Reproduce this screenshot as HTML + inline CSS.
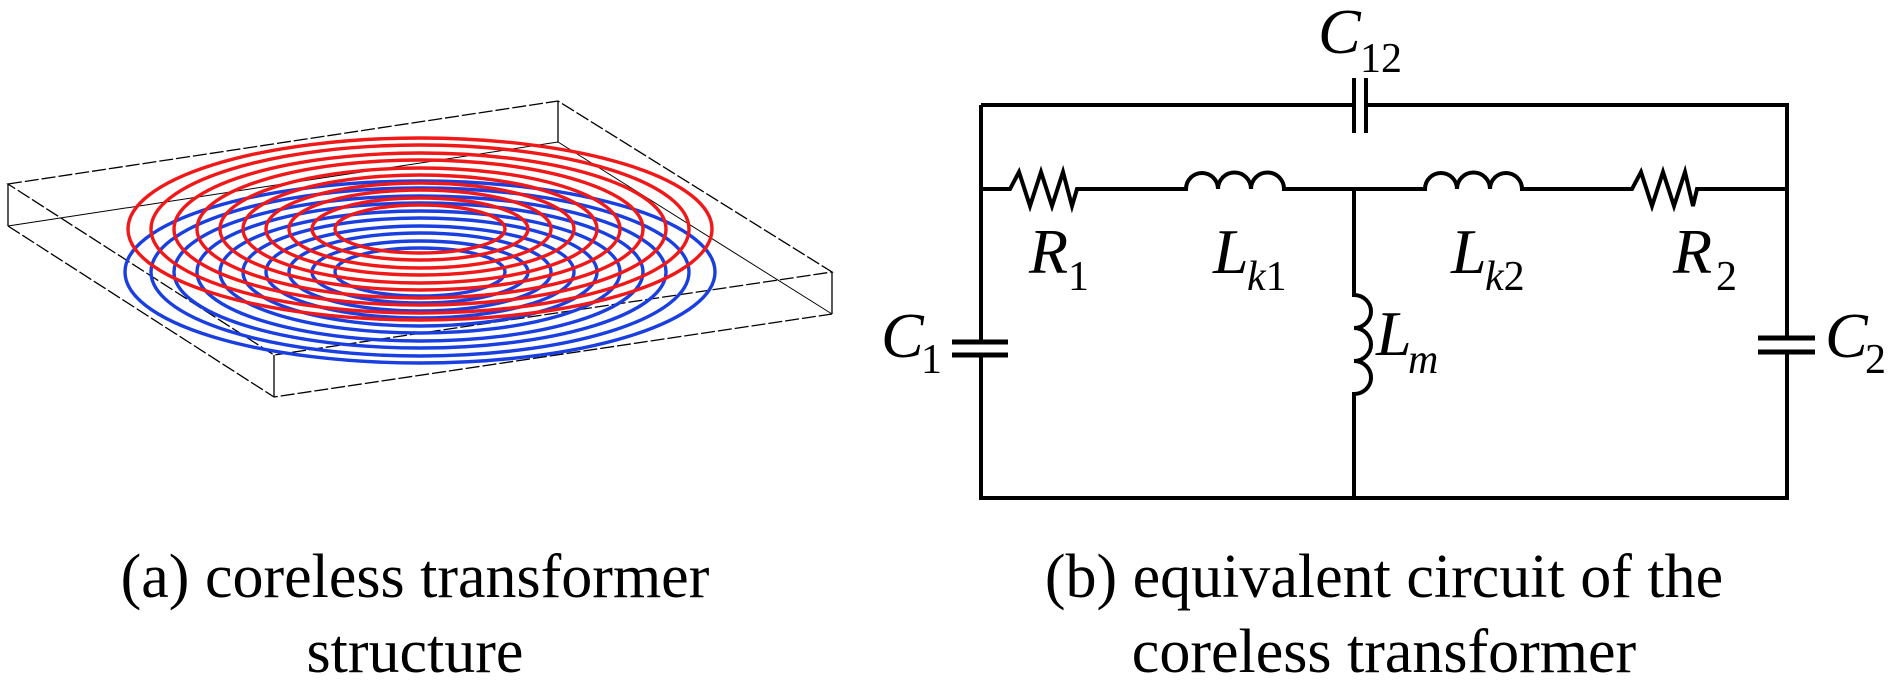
<!DOCTYPE html>
<html><head><meta charset="utf-8"><style>html,body{margin:0;padding:0;background:#fff}svg{display:block}</style></head>
<body>
<svg width="1890" height="684" viewBox="0 0 1890 684" xmlns="http://www.w3.org/2000/svg">
<g fill="none" stroke="#000" stroke-width="1.3">
  <path d="M8,184 L558,101 L832,272 L274,355 Z" stroke-dasharray="14,3"/>
  <path d="M8,226 L558,142 L832,314" stroke-width="1"/>
  <path d="M8,226 L274,397 L832,314" stroke-dasharray="14,3"/>
  <path d="M8,184 V226 M274,355 V397 M558,101 V142 M832,272 V314"/>
</g>
<g fill="none" stroke="#1a3fe0" stroke-width="3.4">
  <ellipse cx="420" cy="272" rx="85" ry="24"/>
  <ellipse cx="420" cy="272" rx="108" ry="31"/>
  <ellipse cx="420" cy="272" rx="131" ry="39"/>
  <ellipse cx="420" cy="272" rx="154" ry="46"/>
  <ellipse cx="420" cy="272" rx="177" ry="54"/>
  <ellipse cx="420" cy="272" rx="200" ry="61"/>
  <ellipse cx="420" cy="272" rx="223" ry="69"/>
  <ellipse cx="420" cy="272" rx="246" ry="76"/>
  <ellipse cx="420" cy="272" rx="269" ry="84"/>
  <ellipse cx="420" cy="272" rx="295" ry="91"/>
</g>
<g fill="none" stroke="#f01818" stroke-width="3.4">
  <ellipse cx="420" cy="229" rx="85" ry="24"/>
  <ellipse cx="420" cy="229" rx="108" ry="31"/>
  <ellipse cx="420" cy="229" rx="131" ry="39"/>
  <ellipse cx="420" cy="229" rx="154" ry="46"/>
  <ellipse cx="420" cy="229" rx="177" ry="54"/>
  <ellipse cx="420" cy="229" rx="200" ry="61"/>
  <ellipse cx="420" cy="229" rx="223" ry="69"/>
  <ellipse cx="420" cy="229" rx="246" ry="76"/>
  <ellipse cx="420" cy="229" rx="269" ry="84"/>
  <ellipse cx="420" cy="229" rx="292" ry="91"/>
</g>

<g fill="none" stroke="#000" stroke-width="4" stroke-linejoin="miter">
  <path d="M981,105 H1354 M1366,105 H1787 V338 M1787,352 V498 H981 V355 M981,342 V105"/>
  <path d="M1354,78 V133 M1366,78 V133"/>
  <path d="M952,342 H1008 M952,355 H1008" stroke-width="5"/>
  <path d="M1758,338 H1815 M1758,352 H1815" stroke-width="5"/>
  <path d="M981,189 H1010 L1019,172 L1030,206 L1041,172 L1052,206 L1063,172 L1072,206 L1077,189 H1186
           A16,16 0 0 1 1218,189 A16,16 0 0 1 1251,189 A16,16 0 0 1 1284,189 H1425
           A16,16 0 0 1 1457,189 A16,16 0 0 1 1490,189 A16,16 0 0 1 1522,189 H1632
           L1641,172 L1652,206 L1663,172 L1674,206 L1685,172 L1693,206 L1697,189 H1787"/>
  <path d="M1354,189 V295 A17,16.5 0 0 1 1354,328 A17,16.5 0 0 1 1354,361 A17,16.5 0 0 1 1354,394 V498"/>
</g>

<g font-family="Liberation Serif, serif" fill="#000">
  <text x="1318" y="53" font-size="64" font-style="italic">C</text>
  <text x="1360" y="72" font-size="42">12</text>
  <text x="1029" y="273" font-size="64" font-style="italic">R</text>
  <text x="1068" y="290" font-size="42">1</text>
  <text x="1213" y="273" font-size="64" font-style="italic">L</text>
  <text x="1247" y="290" font-size="42"><tspan font-style="italic">k</tspan>1</text>
  <text x="1451" y="273" font-size="64" font-style="italic">L</text>
  <text x="1485" y="290" font-size="42"><tspan font-style="italic">k</tspan>2</text>
  <text x="1673" y="273" font-size="64" font-style="italic">R</text>
  <text x="1716" y="290" font-size="42">2</text>
  <text x="881" y="357" font-size="64" font-style="italic">C</text>
  <text x="921" y="373" font-size="42">1</text>
  <text x="1825" y="357" font-size="64" font-style="italic">C</text>
  <text x="1865" y="373" font-size="42">2</text>
  <text x="1376" y="355" font-size="64" font-style="italic">L</text>
  <text x="1408" y="373" font-size="42" font-style="italic">m</text>

  <g font-size="62" text-anchor="middle">
    <text x="415" y="597">(a) coreless transformer</text>
    <text x="415" y="672">structure</text>
    <text x="1384" y="597">(b) equivalent circuit of the</text>
    <text x="1384" y="672">coreless transformer</text>
  </g>
</g>
</svg>
</body></html>
